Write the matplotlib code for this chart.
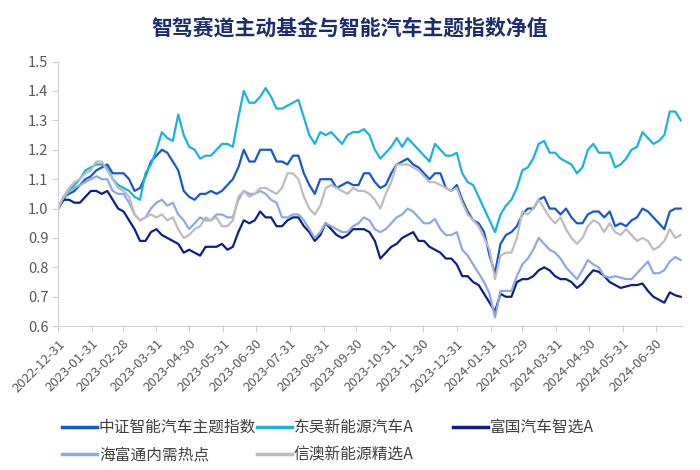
import numpy as np
import matplotlib
matplotlib.use('Agg')
import matplotlib.pyplot as plt
import pandas as pd

plt.rcParams['font.family'] = ['Noto Sans CJK SC', 'DejaVu Sans']

# net value, sampled every 5 days from 2022-12-31
dates = pd.date_range('2022-12-31', periods=115, freq='5D')

zz_index = [1.00, 1.04, 1.05, 1.06, 1.08, 1.10, 1.11, 1.13, 1.14, 1.15, 1.12, 1.12, 1.12, 1.10, 1.06, 1.07,
            1.11, 1.16, 1.18, 1.20, 1.19, 1.16, 1.13, 1.06, 1.04, 1.03, 1.05, 1.05, 1.06, 1.05, 1.06, 1.08,
            1.10, 1.14, 1.20, 1.16, 1.16, 1.20, 1.20, 1.20, 1.16, 1.16, 1.15, 1.18, 1.18, 1.12, 1.08, 1.05,
            1.10, 1.10, 1.10, 1.07, 1.08, 1.09,
            1.08, 1.08, 1.12, 1.12, 1.09, 1.07, 1.08, 1.12, 1.15, 1.16, 1.17, 1.15, 1.14, 1.12, 1.10, 1.12,
            1.12, 1.07, 1.06, 1.08, 1.03, 0.99, 0.96, 0.95, 0.92, 0.84, 0.78, 0.88, 0.91, 0.92, 0.94, 0.98,
            1.00, 1.00, 1.03, 1.04, 1.00, 1.00, 0.98, 1.00, 0.97, 0.95, 0.95, 0.98, 0.99, 0.99, 0.97, 0.99,
            0.94, 0.95, 0.94, 0.96, 0.97, 1.00, 0.99, 0.97, 0.95, 0.93, 0.99, 1.00, 1.00]

dongwu = [1.00, 1.03, 1.06, 1.08, 1.10, 1.13, 1.14, 1.15, 1.15, 1.14, 1.10, 1.08, 1.07, 1.06, 1.04, 1.03,
          1.12, 1.15, 1.20, 1.26, 1.24, 1.23, 1.32, 1.25, 1.21, 1.20, 1.17, 1.18, 1.18, 1.20, 1.22, 1.22,
          1.21, 1.31, 1.40, 1.36, 1.36, 1.38, 1.41, 1.38, 1.34, 1.34, 1.35, 1.36, 1.37, 1.31, 1.25, 1.22,
          1.26, 1.25, 1.26, 1.24, 1.22, 1.25,
          1.26, 1.26, 1.27, 1.25, 1.20, 1.17, 1.19, 1.21, 1.24, 1.21, 1.24, 1.22, 1.20, 1.18, 1.16, 1.22,
          1.20, 1.18, 1.18, 1.19, 1.12, 1.09, 1.08, 1.04, 1.00, 0.96, 0.92, 0.98, 1.01, 1.03, 1.07, 1.13,
          1.14, 1.17, 1.22, 1.23, 1.19, 1.19, 1.17, 1.16, 1.15, 1.12, 1.14, 1.20, 1.22, 1.19, 1.19, 1.19,
          1.14, 1.15, 1.17, 1.20, 1.21, 1.26, 1.24, 1.22, 1.23, 1.25, 1.33, 1.33, 1.30]

fuguo = [1.00, 1.03, 1.03, 1.02, 1.02, 1.04, 1.06, 1.06, 1.05, 1.06, 1.03, 1.00, 0.99, 0.96, 0.93, 0.89,
         0.89, 0.92, 0.93, 0.91, 0.90, 0.89, 0.88, 0.85, 0.86, 0.85, 0.84, 0.87, 0.87, 0.87, 0.88, 0.86,
         0.87, 0.92, 0.96, 0.95, 0.96, 0.99, 0.97, 0.97, 0.94, 0.94, 0.96, 0.97, 0.97, 0.94, 0.92, 0.89,
         0.91, 0.95, 0.93, 0.91, 0.90, 0.91,
         0.93, 0.93, 0.93, 0.92, 0.89, 0.83, 0.85, 0.87, 0.88, 0.90, 0.91, 0.92, 0.89, 0.89, 0.87, 0.86,
         0.85, 0.83, 0.83, 0.81, 0.77, 0.77, 0.75, 0.74, 0.71, 0.68, 0.65, 0.71, 0.70, 0.70, 0.75, 0.76,
         0.76, 0.77, 0.79, 0.80, 0.79, 0.77, 0.76, 0.76, 0.75, 0.73, 0.745, 0.77, 0.79, 0.785, 0.77, 0.75,
         0.74, 0.73, 0.735, 0.74, 0.74, 0.745, 0.72, 0.70, 0.69, 0.68, 0.715, 0.705, 0.70]

haifutong = [1.00, 1.04, 1.06, 1.07, 1.08, 1.09, 1.10, 1.11, 1.10, 1.10, 1.06, 1.05, 1.05, 1.02, 0.98, 0.96,
             0.97, 1.00, 1.02, 1.03, 1.01, 1.02, 0.98, 0.96, 0.93, 0.95, 0.97, 0.96, 0.96, 0.98, 0.98, 0.97,
             0.97, 1.03, 1.06, 1.05, 1.05, 1.06, 1.05, 1.03, 1.02, 0.97, 0.97, 0.98, 0.98, 0.96, 0.93, 0.90,
             0.92, 0.95, 0.94, 0.93, 0.92, 0.92,
             0.94, 0.95, 0.97, 0.96, 0.93, 0.92, 0.93, 0.95, 0.97, 0.98, 1.00, 0.99, 0.97, 0.95, 0.95, 0.965,
             0.93, 0.91, 0.91, 0.92, 0.86, 0.84, 0.81, 0.78, 0.75, 0.71, 0.63, 0.72, 0.72, 0.72, 0.77, 0.81,
             0.83, 0.86, 0.90, 0.88, 0.86, 0.85, 0.83, 0.80, 0.78, 0.76, 0.79, 0.825, 0.81, 0.80, 0.77, 0.765,
             0.77, 0.765, 0.76, 0.76, 0.78, 0.80, 0.82, 0.78, 0.78, 0.79, 0.82, 0.835, 0.825]

xinao = [1.00, 1.04, 1.07, 1.09, 1.10, 1.12, 1.13, 1.16, 1.16, 1.13, 1.10, 1.07, 1.06, 1.04, 0.98, 0.96,
         0.97, 0.98, 0.97, 0.98, 0.96, 0.97, 0.93, 0.90, 0.91, 0.93, 0.94, 0.97, 0.96, 0.97, 0.94, 0.94,
         0.96, 1.04, 1.06, 1.04, 1.05, 1.07, 1.07, 1.06, 1.05, 1.07, 1.12, 1.12, 1.10, 1.04, 1.00, 0.98,
         1.01, 1.07, 1.08, 1.07, 1.06, 1.05,
         1.07, 1.06, 1.06, 1.05, 1.03, 1.00, 1.05, 1.09, 1.15, 1.15, 1.15, 1.14, 1.13, 1.11, 1.09, 1.09,
         1.08, 1.07, 1.06, 1.07, 1.02, 0.98, 0.96, 0.94, 0.90, 0.86, 0.76, 0.84, 0.85, 0.85, 0.90, 0.99,
         0.98, 1.00, 1.03, 1.00, 0.97, 0.95, 0.97, 0.93, 0.90, 0.88, 0.90, 0.94, 0.96, 0.95, 0.92, 0.95,
         0.92, 0.91, 0.93, 0.91, 0.89, 0.90, 0.89, 0.86, 0.87, 0.89, 0.93, 0.90, 0.91]

names = ['中证智能汽车主题指数', '东吴新能源汽车A', '富国汽车智选A', '海富通内需热点', '信澳新能源精选A']
colors = ['#1a56cc', '#1ab2e3', '#0d1f8a', '#8ea8e6', '#bdbdbd']

tick_labels = ['2022-12-31', '2023-01-31', '2023-02-28', '2023-03-31', '2023-04-30', '2023-05-31',
               '2023-06-30', '2023-07-31', '2023-08-31', '2023-09-30', '2023-10-31', '2023-11-30',
               '2023-12-31', '2024-01-31', '2024-02-29', '2024-03-31', '2024-04-30', '2024-05-31',
               '2024-06-30']

series = [zz_index, dongwu, fuguo, haifutong, xinao]

fig = plt.figure(figsize=(7, 4.7), dpi=100)
ax = fig.add_axes([0.083, 0.306, 0.891, 0.563])

lines = []
for vals, name, c in zip(series, names, colors):
    ln, = ax.plot(dates, vals, color=c, lw=1.6, label=name)
    lines.append(ln)

ax.set_xlim(pd.Timestamp('2022-12-31'), pd.Timestamp('2024-07-24'))
ax.set_ylim(0.6, 1.5)
ax.set_yticks(np.arange(0.6, 1.51, 0.1))
ax.yaxis.set_major_formatter(matplotlib.ticker.FormatStrFormatter('%.1f'))

ax.set_xticks(pd.to_datetime(tick_labels))
ax.set_xticklabels(tick_labels, rotation=45, ha='right', rotation_mode='anchor')

for s in ['top', 'right']:
    ax.spines[s].set_visible(False)
for s in ['left', 'bottom']:
    ax.spines[s].set_color('#d0d0d0')
ax.tick_params(axis='x', colors='#d0d0d0', labelcolor='#595959', labelsize=9.5, length=4, pad=4)
ax.tick_params(axis='y', colors='#d0d0d0', labelcolor='#595959', labelsize=10.5, length=4, pad=3)

fig.text(0.5, 0.94, '智驾赛道主动基金与智能汽车主题指数净值', ha='center', va='center',
         fontsize=15, fontweight='bold', color='#1c2c6e')

# three legend columns with equal widths, like the source
cols = [[0, 3], [1, 4], [2]]
xs = [62, 257, 453]
for idx, x0 in zip(cols, xs):
    fig.legend([lines[i] for i in idx], [names[i] for i in idx], loc='upper left',
               bbox_to_anchor=(x0 / 700, 1 - 419 / 470), frameon=False, fontsize=11.3,
               handlelength=2.2, handletextpad=0.15, labelspacing=0.68, borderpad=0,
               borderaxespad=0, labelcolor='#404040')
for leg in fig.legends:
    for h in leg.legend_handles:
        h.set_linewidth(2.5)

fig.savefig('out.png', dpi=100)
